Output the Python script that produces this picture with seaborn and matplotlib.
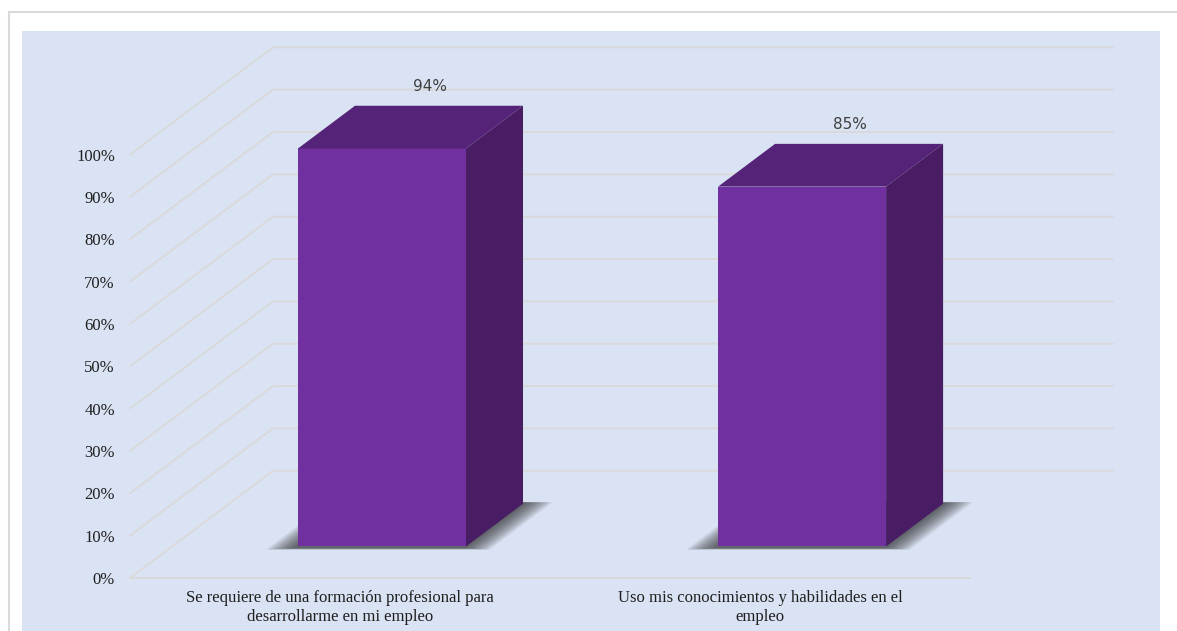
import textwrap
import pandas as pd
import matplotlib
matplotlib.use("Agg")
import matplotlib.pyplot as plt
import seaborn as sns
from matplotlib.patches import Polygon
from matplotlib.lines import Line2D
from matplotlib.transforms import offset_copy

# datos
categorias = ["Se requiere de una formación profesional para desarrollarme en mi empleo",
              "Uso mis conocimientos y habilidades en el empleo"]
porcentajes = [94, 85]
marcas_y = list(range(0, 101, 10))
etiquetas_y = [f"{v}%" for v in marcas_y]

df = pd.DataFrame({"categoria": [textwrap.fill(c, 45) for c in categorias],
                   "porcentaje": porcentajes})

sns.set_style("white")
plt.rcParams["font.family"] = ["Liberation Serif", "DejaVu Serif"]

fig = plt.figure(figsize=(11.77, 6.31), dpi=100)
ax = fig.add_axes([22 / 1177, 0, 1138 / 1177, 600 / 631])
ax.set_facecolor("#DAE3F3")

sns.barplot(data=df, x="categoria", y="porcentaje", color="#7030A0", width=0.4,
            saturation=1, ax=ax, zorder=4, linewidth=0)
ax.set_xlim(-0.757, 1.952)
ax.set_ylim(-12.52, 129.19)

# pseudo 3d: profundidad en pixeles (x), con pendiente 0.75
K = 0.75
ZF, ZB, ZW = 42, 99, 143
o = ax.transData.transform((0, 0))
ux = ax.transData.transform((1, 0))[0] - o[0]
uy = ax.transData.transform((0, 1))[1] - o[1]


def P(x, y, z):
    return (x + z / ux, y + K * z / uy)


# rejilla (pared + piso)
xl, xr = -0.5, 1.5
for v in marcas_y:
    pts = [P(xl, v, 0), P(xl, v, ZW), P(xr, v, ZW)]
    ax.plot([p[0] for p in pts], [p[1] for p in pts], color="#D9D9D9", lw=1.3, zorder=1)
ax.plot([P(xl, 0, 0)[0], P(xr, 0, 0)[0]], [0, 0], color="#D9D9D9", lw=1.3, zorder=1)

barras = list(ax.patches)
for p, val in zip(barras, porcentajes):
    x0, w, h = p.get_x(), p.get_width(), p.get_height()
    # sombra difusa
    n = 18
    for i in range(n):
        e = 28 * (1 - i / n)
        sh = [P(x0 - e / ux, 0, ZF - 2 - e * 0.08), P(x0 + w + e / ux, 0, ZF - 2 - e * 0.08),
              P(x0 + w + e / ux, 0, ZB + 2), P(x0 - e / ux, 0, ZB + 2)]
        ax.add_patch(Polygon(sh, closed=True, facecolor="#262626", edgecolor="none",
                             alpha=0.055, zorder=2))
    p.set_transform(offset_copy(ax.transData, fig=fig, x=ZF, y=K * ZF, units="dots"))
    top = [P(x0, h, ZF), P(x0 + w, h, ZF), P(x0 + w, h, ZB), P(x0, h, ZB)]
    side = [P(x0 + w, 0, ZF), P(x0 + w, h, ZF), P(x0 + w, h, ZB), P(x0 + w, 0, ZB)]
    ax.add_patch(Polygon(top, closed=True, facecolor="#552377", edgecolor="none", zorder=4))
    ax.add_patch(Polygon(side, closed=True, facecolor="#481D64", edgecolor="none", zorder=4))
    cx, cy = P(x0 + w / 2, h, (ZF + ZB) / 2)
    ax.annotate(f"{val}%", (cx, cy), xytext=(14, 29), textcoords="offset points",
                ha="center", va="center", fontsize=11, color="#404040",
                family="DejaVu Sans", zorder=6)

# ejes
ax.set_yticks(marcas_y, etiquetas_y)
ax.spines["left"].set_position(("data", xl))
ax.spines["bottom"].set_position(("data", 0))
for s in ax.spines.values():
    s.set_visible(False)
ax.tick_params(axis="y", length=0, pad=10.8, labelsize=12, labelcolor="#1f1f1f")
ax.tick_params(axis="x", length=0, pad=9, labelsize=12, labelcolor="#1f1f1f")
ax.set_xlabel("")
ax.set_ylabel("")
ax.grid(False)

# marco exterior
fig.add_artist(Line2D([9 / 1177, 9 / 1177], [0, 1 - 12 / 631], color="#D9D9D9", lw=1.5))
fig.add_artist(Line2D([9 / 1177, 1], [1 - 12 / 631, 1 - 12 / 631], color="#D9D9D9", lw=1.5))

fig.savefig("out.png", dpi=100, facecolor="white")
